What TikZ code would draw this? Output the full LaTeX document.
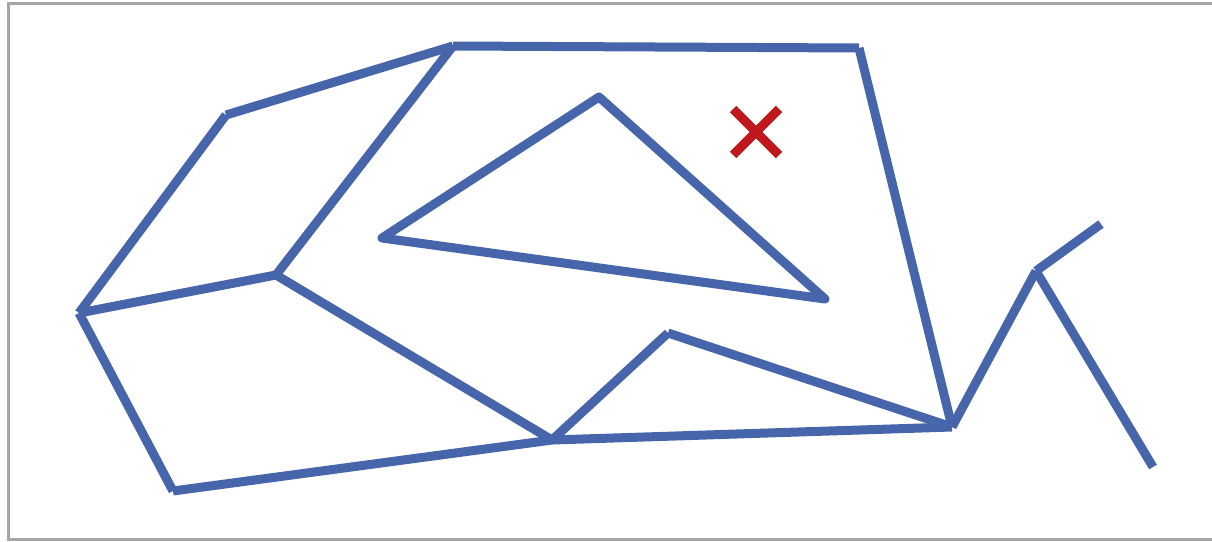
\documentclass[tikz,border=0pt]{standalone}
\usetikzlibrary{calc}

\begin{document}
\begin{tikzpicture}[
x=0.025cm,y=-0.025cm,
edge/.style={draw={rgb,255:red,70;green,101;blue,170},line width=9*0.025cm,line join=round},
cross/.style={draw={rgb,255:red,192;green,24;blue,28},line width=9*0.025cm},
frame/.style={draw={rgb,255:red,166;green,166;blue,166},line width=3*0.025cm}
]
\useasboundingbox (0,0) rectangle (1212,541);
\draw[frame] (1212,3.5) -- (8,3.5) -- (8,539.5) -- (1212,539.5);

% vertices of the outer mesh
\coordinate (west) at (79,313);
\coordinate (upleft) at (226,115);
\coordinate (topleft) at (453,46);
\coordinate (topright) at (859,48);
\coordinate (hub) at (952,427);
\coordinate (mid) at (276,275);
\coordinate (low) at (552,440);
\coordinate (bottom) at (173,491);
\coordinate (bump) at (668,333);
\coordinate (peak) at (1036,271);
\coordinate (tipup) at (1101,224);
\coordinate (tipdown) at (1153,467);

% inner triangle
\coordinate (triA) at (382,238);
\coordinate (triB) at (599,97);
\coordinate (triC) at (825,299);

\foreach \a/\b in {west/upleft,upleft/topleft,topleft/topright,topright/hub,topleft/mid,mid/west,west/bottom,bottom/low,low/mid,low/bump,bump/hub,low/hub,hub/peak,peak/tipup,peak/tipdown}
 \draw[edge] (\a) -- (\b);
\draw[edge] (triA) -- (triB) -- (triC) -- cycle;

% the marked point
\coordinate (mark) at (756,132);
\draw[cross] ($(mark)+(-23,-23)$) -- ($(mark)+(23,23)$);
\draw[cross] ($(mark)+(23,-23)$) -- ($(mark)+(-23,23)$);
\end{tikzpicture}
\end{document}
